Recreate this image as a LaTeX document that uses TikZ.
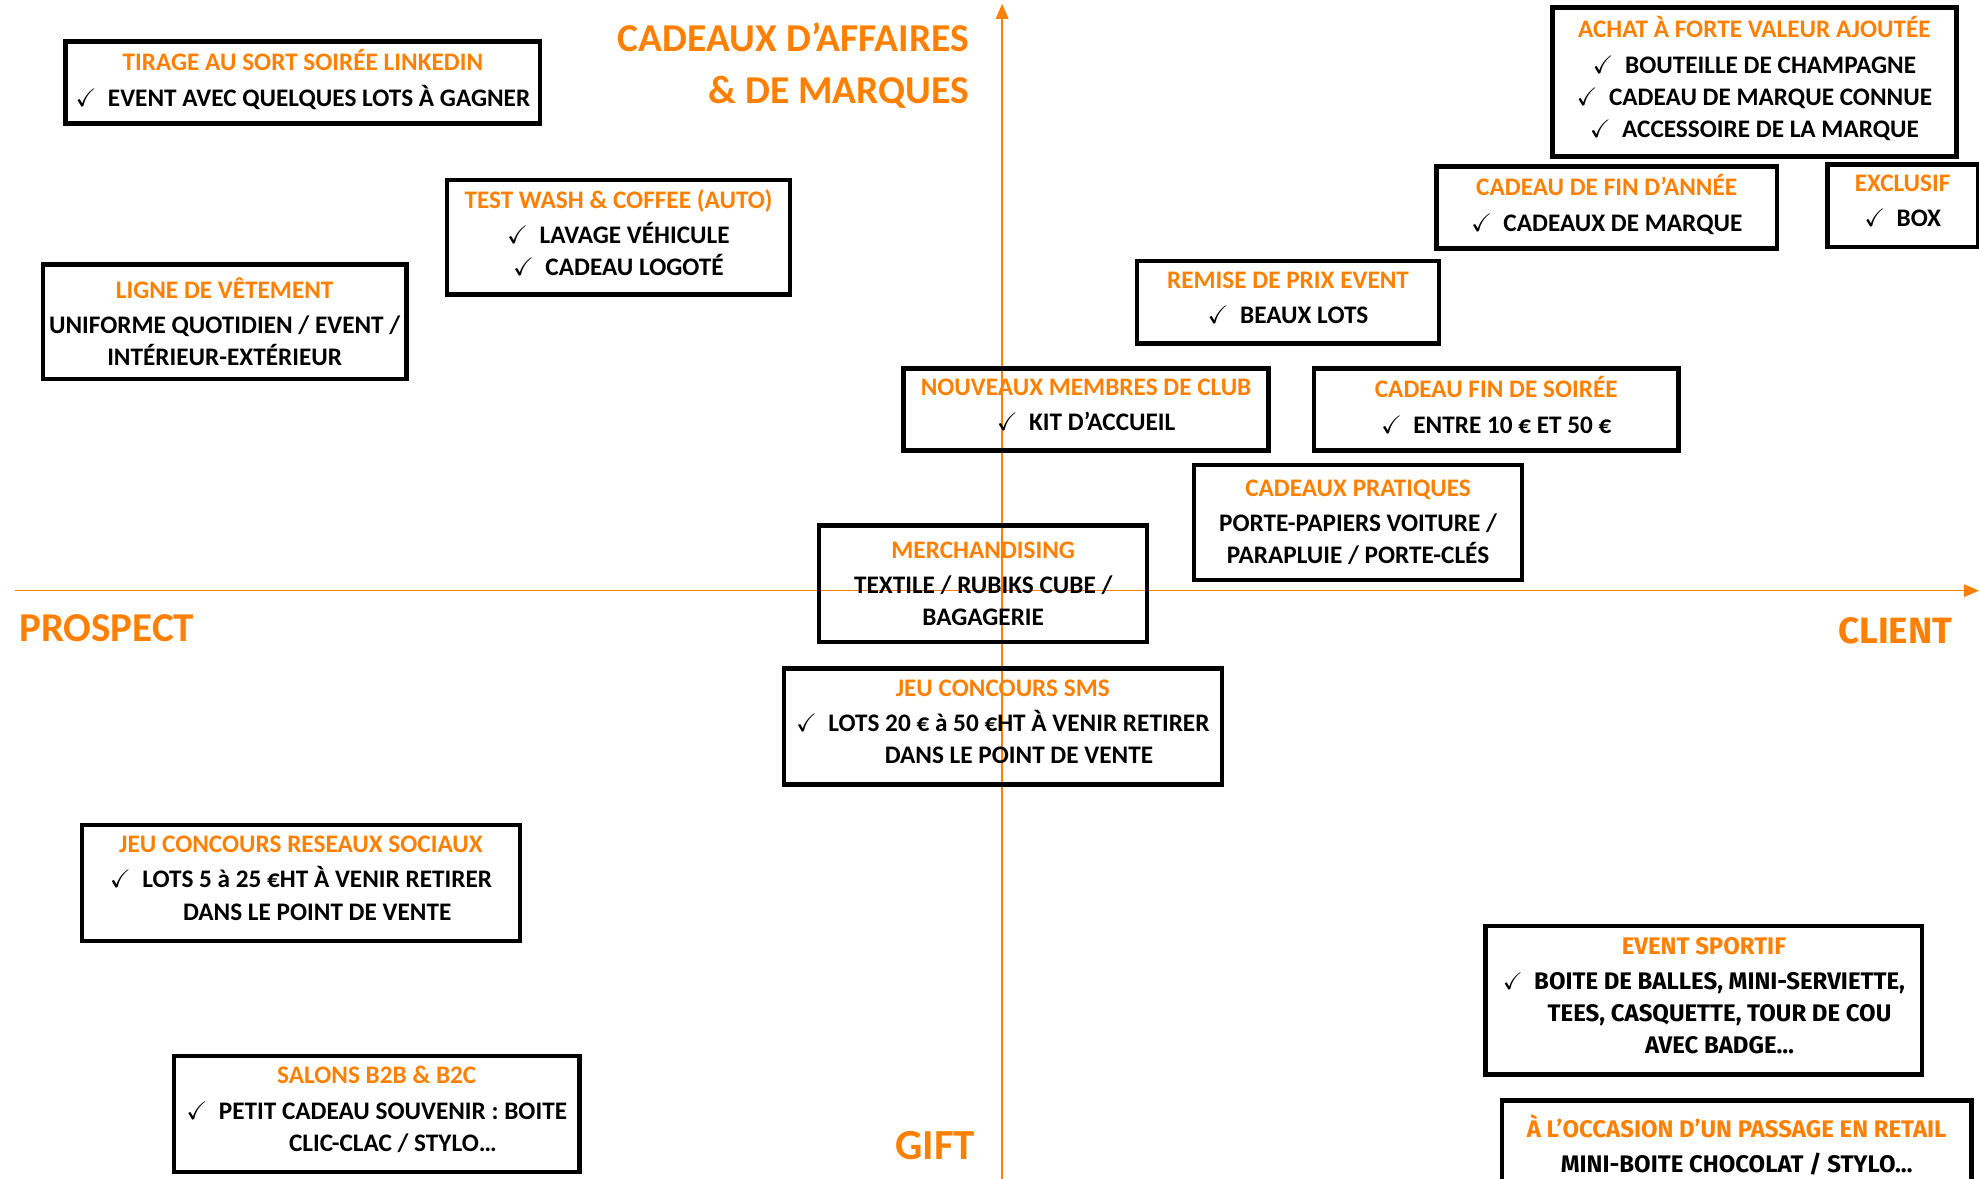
\documentclass[tikz,border=0pt]{standalone}
\usepackage{fontspec}
\usepackage{amssymb}
\usetikzlibrary{arrows.meta}
\newfontfamily\narrowfont{Carlito}
\newfontfamily\widefont{Fira Sans}
\definecolor{axis color}{HTML}{FF8000}
\newcommand{\chk}[1]{$\checkmark$\hspace{9pt}\begin{tabular}[t]{@{}c@{}}#1\end{tabular}}
\newcommand{\boxtitle}[1]{{\color{axis color}#1}\\[2.5pt]}
\tikzset{
    x={1pt},
    y={-1pt},
    axis/.style={
        draw=axis color,
        line width={1.2pt},
        -{Triangle[width=10pt,length=12pt]},
    },
    axis label/.style={
        text=axis color,
        font={\narrowfont\bfseries\fontsize{32.5}{34}\selectfont},
        inner sep=0pt,
    },
    gift box/.style n args={4}{
        draw=black,
        line width={3.5pt},
        align=center,
        inner sep=0pt,
        minimum width={#3},
        minimum height={#4},
        font={\narrowfont\bfseries\fontsize{20}{25.5}\selectfont},
    },
    wide gift box/.style n args={4}{
        gift box={#1}{#2}{#3}{#4},
        font={\widefont\bfseries\fontsize{19}{25.5}\selectfont},
    },
}

\begin{document}
\begin{tikzpicture}
\useasboundingbox (0,0) rectangle (1568,934);
% axes
\coordinate (west end) at (12,468);
\coordinate (east end) at (1568,468);
\coordinate (south end) at (794,934);
\coordinate (north end) at (794,3);
\path[axis] (west end) -- (east end);
\path[axis] (south end) -- (north end);
% axis labels
\node[axis label, anchor=east, align=right, font={\narrowfont\bfseries\fontsize{31.3}{41}\selectfont}] (affaires) at (768,52) {CADEAUX D’AFFAIRES\\\& DE MARQUES};
\node[axis label, anchor=west] (prospect) at (15,498) {PROSPECT};
\node[axis label, anchor=east, font={\widefont\bfseries\fontsize{29}{34}\selectfont}] (client) at (1547,500) {CLIENT};
\node[axis label, font={\narrowfont\bfseries\fontsize{34}{34}\selectfont}] (gift) at (741,908) {GIFT};
% boxes
\node[gift box={}{}{376}{65}] (tirage) at (240,65.5) {\boxtitle{TIRAGE AU SORT SOIRÉE LINKEDIN}\chk{EVENT AVEC QUELQUES LOTS À GAGNER}};
\node[gift box={}{}{272}{91}] (wash) at (490,188) {\boxtitle{TEST WASH \& COFFEE (AUTO)}\chk{LAVAGE VÉHICULE}\\\chk{CADEAU LOGOTÉ}};
\node[gift box={}{}{288}{91}] (vetement) at (178,255) {\boxtitle{LIGNE DE VÊTEMENT}UNIFORME QUOTIDIEN / EVENT /\\INTÉRIEUR-EXTÉRIEUR};
\node[gift box={}{}{320}{118}] (achat) at (1390,65) {\boxtitle{ACHAT À FORTE VALEUR AJOUTÉE}\chk{BOUTEILLE DE CHAMPAGNE}\\\chk{CADEAU DE MARQUE CONNUE}\\\chk{ACCESSOIRE DE LA MARQUE}};
\node[gift box={}{}{270}{65}] (fin annee) at (1273,164.5) {\boxtitle{CADEAU DE FIN D’ANNÉE}\chk{CADEAUX DE MARQUE}};
\node[gift box={}{}{119}{65}] (exclusif) at (1507.5,163) {\boxtitle{EXCLUSIF}\chk{BOX}};
\node[gift box={}{}{239}{65}] (remise) at (1020.5,239.5) {\boxtitle{REMISE DE PRIX EVENT}\chk{BEAUX LOTS}};
\node[gift box={}{}{289}{65}] (membres) at (860.5,324.5) {\boxtitle{NOUVEAUX MEMBRES DE CLUB}\chk{KIT D’ACCUEIL}};
\node[gift box={}{}{289}{65}] (fin soiree) at (1185.5,324.5) {\boxtitle{CADEAU FIN DE SOIRÉE}\chk{ENTRE 10 € ET 50 €}};
\node[gift box={}{}{260}{91}] (pratiques) at (1076,414) {\boxtitle{CADEAUX PRATIQUES}PORTE-PAPIERS VOITURE /\\PARAPLUIE / PORTE-CLÉS};
\node[gift box={}{}{260}{92}] (merch) at (779,462.5) {\boxtitle{MERCHANDISING}TEXTILE / RUBIKS CUBE /\\BAGAGERIE};
\node[gift box={}{}{347}{92}] (sms) at (794.5,575.5) {\boxtitle{JEU CONCOURS SMS}\chk{LOTS 20 € à 50 €HT À VENIR RETIRER\\DANS LE POINT DE VENTE}};
\node[gift box={}{}{347}{92}] (reseaux) at (238.5,699.5) {\boxtitle{JEU CONCOURS RESEAUX SOCIAUX}\chk{LOTS 5 à 25 €HT À VENIR RETIRER\\DANS LE POINT DE VENTE}};
\node[gift box={}{}{321}{92}] (salons) at (298.5,882.5) {\boxtitle{SALONS B2B \& B2C}\chk{PETIT CADEAU SOUVENIR : BOITE\\CLIC-CLAC / STYLO…}};
\node[wide gift box={}{}{346}{118}] (sportif) at (1350,792.5) {\boxtitle{EVENT SPORTIF}\chk{BOITE DE BALLES, MINI-SERVIETTE,\\TEES, CASQUETTE, TOUR DE COU\\AVEC BADGE…}};
\node[wide gift box={}{}{372}{70}] (retail) at (1376,907) {\boxtitle{À L’OCCASION D’UN PASSAGE EN RETAIL}MINI-BOITE CHOCOLAT / STYLO…};
\end{tikzpicture}
\end{document}
